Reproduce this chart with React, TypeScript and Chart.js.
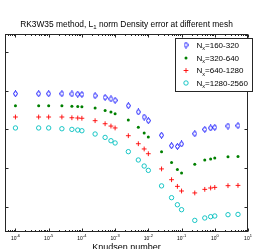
import React, { useEffect, useRef } from 'react';
import { Chart, registerables } from 'chart.js';
Chart.register(...registerables);

// Knudsen numbers (x)
const knudsen = [1e-6, 5e-6, 1e-5, 2.5e-5, 5e-5, 7.5e-5, 1e-4, 2.5e-4, 5e-4, 7.5e-4, 1e-3, 2.5e-3, 5e-3, 7.5e-3, 1e-2, 2.5e-2, 5e-2, 7.5e-2, 0.1, 0.25, 0.5, 0.75, 1, 2.5, 5];
// L1 density error for each mesh pair
const errN160 = [8.35e-4, 8.35e-4, 8.35e-4, 8.35e-4, 8.22e-4, 8.13e-4, 8.02e-4, 7.43e-4, 6.72e-4, 6.14e-4, 5.65e-4, 4.09e-4, 2.82e-4, 2.09e-4, 1.68e-4, 7.08e-5, 3.79e-5, 3.64e-5, 4.2e-5, 7.74e-5, 1.0e-4, 1.09e-4, 1.13e-4, 1.22e-4, 1.25e-4];
const errN320 = [4.09e-4, 4.09e-4, 4.09e-4, 4.09e-4, 3.97e-4, 3.93e-4, 3.87e-4, 3.57e-4, 3.1e-4, 2.82e-4, 2.55e-4, 1.75e-4, 1.13e-4, 8.07e-5, 6.37e-5, 2.66e-5, 1.4e-5, 9.24e-6, 7.46e-6, 1.25e-5, 1.62e-5, 1.72e-5, 1.82e-5, 1.97e-5, 2.0e-5];
const errN640 = [2.09e-4, 2.09e-4, 2.09e-4, 2.09e-4, 2.0e-4, 1.97e-4, 1.94e-4, 1.68e-4, 1.4e-4, 1.22e-4, 1.09e-4, 6.87e-5, 4.26e-5, 3.12e-5, 2.35e-5, 9.52e-6, 5.01e-6, 3.37e-6, 2.56e-6, 2.28e-6, 2.82e-6, 3.06e-6, 3.17e-6, 3.51e-6, 3.57e-6];
const errN1280 = [1.09e-4, 1.09e-4, 1.09e-4, 1.04e-4, 1.0e-4, 9.63e-5, 9.24e-5, 7.6e-5, 6.21e-5, 5.1e-5, 4.46e-5, 2.66e-5, 1.62e-5, 1.13e-5, 8.73e-6, 3.47e-6, 1.72e-6, 1.13e-6, 8.41e-7, 4.45e-7, 5.14e-7, 5.55e-7, 5.78e-7, 6.25e-7, 6.36e-7];

const meshLabels = ['160-320', '320-640', '640-1280', '1280-2560'];
const seriesColors = ['#0000ff', '#008000', '#ff0000', '#00bfbf'];
const xTickExponents = [-6, -5, -4, -3, -2, -1, 0, 1];
const yTickExponents = [-6, -5, -4, -3, -2];
const xLimits = [4.85e-7, 10];
const yLimits = [2.23e-7, 2.92e-2];

const titleMain = 'RK3W35 method, L';
const titleSub = '1';
const titleRest = ' norm Density error at different mesh';
const xAxisLabel = 'Knudsen number';

const FONT = '"Liberation Sans", Arial, Helvetica, sans-serif';

function makeDiamond(color: string) {
  const d = document.createElement('canvas');
  d.width = 5;
  d.height = 7;
  const c = d.getContext('2d')!;
  c.strokeStyle = color;
  c.lineWidth = 1;
  c.beginPath();
  c.moveTo(2.5, 0.5);
  c.lineTo(4.5, 3.5);
  c.lineTo(2.5, 6.5);
  c.lineTo(0.5, 3.5);
  c.closePath();
  c.stroke();
  return d;
}

function drawMarker(ctx: CanvasRenderingContext2D, idx: number, x: number, y: number, diamond: HTMLCanvasElement) {
  const col = seriesColors[idx];
  ctx.save();
  if (idx === 0) {
    ctx.drawImage(diamond, x - diamond.width / 2, y - diamond.height / 2);
  } else if (idx === 1) {
    ctx.fillStyle = col;
    ctx.beginPath();
    ctx.arc(x, y, 1.5, 0, Math.PI * 2);
    ctx.fill();
  } else if (idx === 2) {
    ctx.strokeStyle = col;
    ctx.lineWidth = 0.9;
    ctx.beginPath();
    ctx.moveTo(x - 2.4, y);
    ctx.lineTo(x + 2.4, y);
    ctx.moveTo(x, y - 2.4);
    ctx.lineTo(x, y + 2.4);
    ctx.stroke();
  } else {
    ctx.strokeStyle = col;
    ctx.lineWidth = 0.9;
    ctx.beginPath();
    ctx.arc(x, y, 2.2, 0, Math.PI * 2);
    ctx.stroke();
  }
  ctx.restore();
}

export default function App() {
  const ref = useRef<HTMLCanvasElement | null>(null);

  useEffect(() => {
    document.body.style.margin = '0';
    const canvas = ref.current;
    if (!canvas) return;
    const diamond = makeDiamond(seriesColors[0]);
    const seriesValues = [errN160, errN320, errN640, errN1280];

    const framePlugin = {
      id: 'matlabFrame',
      afterDraw(chart: any) {
        const { ctx, chartArea: a, scales } = chart;
        const xs = scales.x;
        const ys = scales.y;
        const L = Math.round(a.left) + 0.5;
        const R = Math.round(a.right) - 0.5;
        const T = Math.round(a.top) + 0.5;
        const B = Math.round(a.bottom) - 0.5;
        ctx.save();
        ctx.strokeStyle = '#262626';
        ctx.lineWidth = 1;
        ctx.strokeRect(L, T, R - L, B - T);
        ctx.beginPath();
        for (let e = -7; e <= 1; e++) {
          for (let m = 1; m <= 9; m++) {
            const v = m * Math.pow(10, e);
            if (v < xs.min || v > xs.max) continue;
            const px = Math.round(xs.getPixelForValue(v)) + 0.5;
            const len = m === 1 ? 3 : 1.5;
            ctx.moveTo(px, B);
            ctx.lineTo(px, B - len);
            ctx.moveTo(px, T);
            ctx.lineTo(px, T + len);
          }
        }
        for (const e of yTickExponents) {
          const py = Math.round(ys.getPixelForValue(Math.pow(10, e))) + 0.5;
          ctx.moveTo(L, py);
          ctx.lineTo(L + 3, py);
          ctx.moveTo(R, py);
          ctx.lineTo(R - 3, py);
        }
        ctx.stroke();

        // x tick labels
        ctx.fillStyle = '#000';
        ctx.textBaseline = 'alphabetic';
        ctx.textAlign = 'left';
        for (const e of xTickExponents) {
          const px = xs.getPixelForValue(Math.pow(10, e));
          ctx.font = `5px ${FONT}`;
          const w1 = ctx.measureText('10').width;
          ctx.font = `4px ${FONT}`;
          const exp = String(e);
          const w2 = ctx.measureText(exp).width;
          const x0 = px - (w1 + w2) / 2;
          ctx.font = `5px ${FONT}`;
          ctx.fillText('10', x0, 239.5);
          ctx.font = `4px ${FONT}`;
          ctx.fillText(exp, x0 + w1, 236.5);
        }

        // title
        const cx = (a.left + a.right) / 2;
        ctx.font = `8.4px ${FONT}`;
        const tw1 = ctx.measureText(titleMain).width;
        const tw3 = ctx.measureText(titleRest).width;
        ctx.font = `6px ${FONT}`;
        const tw2 = ctx.measureText(titleSub).width;
        let tx = cx - (tw1 + tw2 + tw3) / 2;
        ctx.font = `8.4px ${FONT}`;
        ctx.fillText(titleMain, tx, 26.5);
        tx += tw1;
        ctx.font = `6px ${FONT}`;
        ctx.fillText(titleSub, tx, 28.5);
        tx += tw2;
        ctx.font = `8.4px ${FONT}`;
        ctx.fillText(titleRest, tx, 26.5);

        // x axis label
        ctx.font = `9px ${FONT}`;
        ctx.textAlign = 'center';
        ctx.fillText(xAxisLabel, cx, 250);
        ctx.textAlign = 'left';

        // legend
        ctx.fillStyle = '#fff';
        ctx.fillRect(175.5, 38.5, 77, 53);
        ctx.strokeStyle = '#262626';
        ctx.strokeRect(175.5, 38.5, 77, 53);
        const rowY = [45, 58, 70.5, 83];
        chart.data.datasets.forEach((ds: any, i: number) => {
          const y = rowY[i];
          drawMarker(ctx, i, 186, y, diamond);
          ctx.fillStyle = '#000';
          let lx = 196.5;
          ctx.font = `8px ${FONT}`;
          ctx.fillText('N', lx, y + 2.8);
          lx += ctx.measureText('N').width;
          ctx.font = `5.5px ${FONT}`;
          ctx.fillText('x', lx, y + 5);
          lx += ctx.measureText('x').width;
          ctx.font = `8px ${FONT}`;
          ctx.fillText('=' + meshLabels[i], lx, y + 2.8);
        });
        ctx.restore();
      },
    };

    const styles: any[] = [
      { pointStyle: diamond, pointRadius: 3, borderColor: seriesColors[0], backgroundColor: seriesColors[0] },
      { pointStyle: 'circle', pointRadius: 1.5, borderWidth: 0, borderColor: seriesColors[1], backgroundColor: seriesColors[1] },
      { pointStyle: 'cross', pointRadius: 2.4, borderWidth: 0.9, borderColor: seriesColors[2], backgroundColor: seriesColors[2] },
      { pointStyle: 'circle', pointRadius: 2.2, borderWidth: 0.9, borderColor: seriesColors[3], backgroundColor: 'rgba(0,0,0,0)' },
    ];

    const chart = new Chart(canvas, {
      type: 'scatter',
      data: {
        datasets: seriesValues.map((vals, i) => ({
          label: 'N_x=' + meshLabels[i],
          data: knudsen.map((k, j) => ({ x: k, y: vals[j] })),
          showLine: false,
          ...styles[i],
        })),
      },
      options: {
        animation: false,
        responsive: false,
        maintainAspectRatio: false,
        layout: { padding: { left: 4, top: 34, right: 0, bottom: 17 } },
        plugins: {
          legend: { display: false },
          title: { display: false },
          tooltip: { enabled: false },
        },
        scales: {
          x: { type: 'logarithmic', min: xLimits[0], max: xLimits[1], display: false },
          y: { type: 'logarithmic', min: yLimits[0], max: yLimits[1], display: false },
        },
      },
      plugins: [framePlugin],
    } as any);
    return () => chart.destroy();
  }, []);

  return (
    <div style={{ width: 253, height: 249, background: '#fff' }}>
      <canvas ref={ref} width={253} height={249} style={{ display: 'block', width: 253, height: 249 }} />
    </div>
  );
}
